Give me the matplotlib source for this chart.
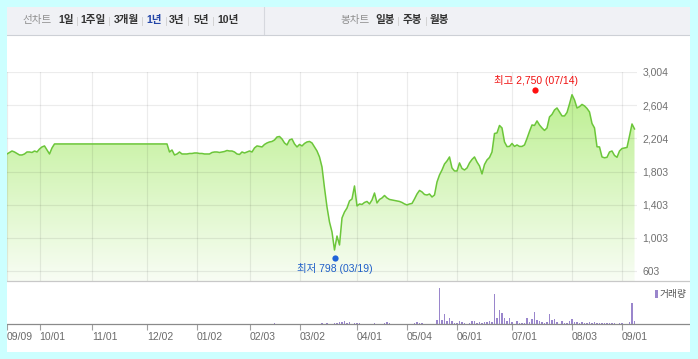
import numpy as np
import matplotlib.pyplot as plt
from matplotlib.patches import Rectangle
from matplotlib.lines import Line2D
from matplotlib.colors import LinearSegmentedColormap
from matplotlib.transforms import offset_copy

plt.rcParams['font.family'] = ['Liberation Sans', 'Noto Sans CJK KR', 'DejaVu Sans']

W, H = 698, 359

# 종가 (거래일 순서)
close = [
    2015, 2033, 2051, 2039, 2021, 2003, 2003, 2015, 2039, 2039, 2033, 2051, 2039, 2075, 2100, 2112, 2063, 2015, 2088,
    2136, 2136, 2136, 2136, 2136, 2136, 2136, 2136, 2136, 2136, 2136, 2136, 2136, 2136, 2136, 2136,
    2136, 2136, 2136, 2136, 2136, 2136, 2136, 2136, 2136, 2136, 2136, 2136, 2136, 2136, 2136, 2136,
    2136, 2136, 2136, 2136, 2136, 2136, 2136, 2136, 2136, 2136, 2136, 2136, 2136, 2136,
    2039, 2063, 2003, 2015, 2039, 2015, 2015, 2015, 2021, 2021, 2027, 2027, 2021, 2021, 2015, 2015, 2015,
    2033, 2039, 2039, 2033, 2039, 2045, 2057, 2051, 2051, 2039, 2015, 2009, 2039, 2027, 2039, 2051, 2039,
    2088, 2112, 2106, 2100, 2130, 2148, 2160, 2166, 2184, 2220, 2226, 2196, 2148, 2124, 2184, 2196, 2136,
    2100, 2130, 2112, 2142, 2160, 2166, 2148, 2100, 2051, 1979,
    1858, 1605, 1375, 1194, 1074, 856, 1025, 917, 1243, 1315, 1363, 1448, 1472, 1629, 1388, 1412, 1406,
    1430, 1442, 1412, 1460, 1544, 1424, 1466, 1484, 1514, 1484, 1466, 1460, 1454, 1448, 1442, 1430, 1412,
    1400, 1412, 1418, 1472, 1532, 1575, 1557, 1526, 1520, 1532, 1496, 1520,
    1677, 1762, 1822, 1894, 1931, 1979, 1846, 1810, 1810, 1907, 1840, 1822, 1846, 1907, 1949, 1979, 1918,
    1870, 1774, 1888, 1943, 1973, 2039, 2262, 2269, 2359, 2329, 2160, 2104, 2106, 2142, 2106, 2124, 2106,
    2106, 2124, 2202, 2287, 2365, 2359, 2414, 2365, 2329, 2299, 2329, 2462, 2492, 2546, 2570, 2522, 2474,
    2474, 2516, 2619, 2730, 2667, 2570, 2586, 2613, 2595, 2564, 2522, 2383, 2329, 2102, 2100, 1979, 1969,
    1975, 2039, 2051, 1997, 1975, 2051, 2081, 2088, 2094, 2232, 2377, 2317,
]

# 거래량 (거래일 번호, 값)
vol_idx = [107, 126, 128, 131, 132, 133, 134, 135, 136, 137, 139, 140, 141, 147, 151, 152, 153,
           163, 164, 165, 166, 172, 173, 174, 175, 176, 177, 178, 179, 180, 181, 182, 183, 185,
           186, 187, 188, 189, 190, 191, 192, 193, 194, 195, 196, 197, 198, 199, 200, 201, 202,
           204, 205, 206, 207, 208, 209, 210, 211, 212, 213, 214, 215, 216, 217, 218, 219, 220,
           222, 223, 224, 225, 226, 227, 228, 229, 230, 231, 232, 233, 234, 235, 236, 237, 238,
           239, 240, 241, 242, 243, 245, 246, 249, 250, 251]
vol_val = [4, 4, 4, 4, 4, 7, 7, 10, 4, 7, 4, 4, 4, 4, 4, 7, 4,
           4, 7, 4, 4, 13, 109, 13, 31, 10, 19, 10, 4, 4, 10, 7, 4, 4,
           10, 10, 4, 7, 4, 7, 7, 10, 7, 91, 19, 43, 34, 19, 10, 19, 7,
           10, 4, 4, 4, 19, 7, 16, 37, 13, 10, 7, 4, 7, 31, 13, 16, 7,
           10, 4, 4, 10, 16, 7, 7, 4, 7, 4, 4, 7, 4, 7, 4, 4, 4,
           4, 4, 4, 4, 4, 4, 4, 7, 64, 10]

tick_idx = [0, 13, 34, 56, 76, 97, 117, 140, 160, 180, 202, 226, 246]
tick_lab = ['09/09', '10/01', '11/01', '12/02', '01/02', '02/03', '03/02',
            '04/01', '05/04', '06/01', '07/01', '08/03', '09/01']
y_ticks = [603, 1003, 1403, 1803, 2204, 2604, 3004]

hi_idx, hi_val, hi_date = 211, 2750, '07/14'
lo_idx, lo_val, lo_date = 131, 798, '03/19'

period_items = ['1일', '1주일', '3개월', '1년', '3년', '5년', '10년']
period_x = [66, 93, 126, 154.5, 177, 201, 228]
period_sep = [77, 109, 142, 166, 188, 213]
candle_items = ['일봉', '주봉', '월봉']
candle_x = [385, 412, 439]
candle_sep = [398, 426]


def fx(px):
    return px / W


def fy(py):
    return 1 - py / H


fig = plt.figure(figsize=(W / 100, H / 100), dpi=100)
fig.patch.set_facecolor('#ccffff')

# 흰 바탕, 상단 메뉴
fig.add_artist(Rectangle((fx(7), fy(352)), fx(690) - fx(7), fy(7) - fy(352),
                         transform=fig.transFigure, fc='white', ec='none', zorder=-10))
fig.add_artist(Rectangle((fx(7), fy(34.5)), fx(690) - fx(7), fy(7) - fy(34.5),
                         transform=fig.transFigure, fc='#f0f1f5', ec='none', zorder=-9))
fig.add_artist(Line2D([fx(7), fx(690)], [fy(34.5), fy(34.5)], transform=fig.transFigure,
                      color='#cdd0d6', lw=0.8, zorder=-8))
fig.add_artist(Line2D([fx(264), fx(264)], [fy(7), fy(34)], transform=fig.transFigure,
                      color='#d6d8de', lw=0.8, zorder=-8))

fig.text(fx(37.5), fy(20.5), '선차트', ha='center', va='center', fontsize=7.6, color='#8f8f8f')
for t, xp in zip(period_items, period_x):
    c = '#2346a8' if t == '1년' else '#333333'
    fig.text(fx(xp), fy(20.5), t, ha='center', va='center', fontsize=7.6, color=c, weight='bold')

fig.text(fx(355), fy(20.5), '봉차트', ha='center', va='center', fontsize=7.6, color='#8f8f8f')
for t, xp in zip(candle_items, candle_x):
    fig.text(fx(xp), fy(20.5), t, ha='center', va='center', fontsize=7.6, color='#333333', weight='bold')

for sx in period_sep + candle_sep:
    fig.add_artist(Line2D([fx(sx), fx(sx)], [fy(16.5), fy(25)], transform=fig.transFigure,
                          color='#d3d3d3', lw=0.7))

# 가격 차트
x = np.arange(len(close))
ybot = 482.3
ax = fig.add_axes([fx(7), fy(281), fx(637) - fx(7), fy(72) - fy(281)])
ax.set_xlim(0, 252)
ax.set_ylim(ybot, 3004)
ax.set_facecolor('none')

poly = ax.fill_between(x, close, ybot, color='none', lw=0)
cmap = LinearSegmentedColormap.from_list('g', ['#f8fdf4', '#b6ee86'])
grad = np.linspace(1, 0, 256).reshape(-1, 1)
im = ax.imshow(grad, aspect='auto', cmap=cmap, extent=(0, 252, ybot, 3004),
               origin='upper', zorder=1)
im.set_clip_path(poly.get_paths()[0], transform=ax.transData)

ax.set_xticks(tick_idx)
ax.set_yticks(y_ticks)
ax.grid(True, color='black', alpha=0.075, lw=0.9, zorder=2)
ax.set_axisbelow(False)
ax.plot(x, close, color='#6cc63a', lw=1.1, zorder=3)
for s in ax.spines.values():
    s.set_visible(False)
ax.yaxis.tick_right()
ax.set_yticklabels([f'{v:,}' for v in y_ticks])
ax.tick_params(axis='y', length=0, pad=4, labelsize=7.5, labelcolor='#707070')
ax.tick_params(axis='x', length=0, labelbottom=False)

# 최고/최저 표시
up = offset_copy(ax.transData, fig=fig, x=0, y=3, units='dots')
dn = offset_copy(ax.transData, fig=fig, x=0, y=-3, units='dots')
ax.plot(hi_idx, hi_val, 'o', color='#ff1010', ms=4.5, mec='none', transform=up, clip_on=False, zorder=5)
ax.plot(lo_idx, lo_val, 'o', color='#1f63d8', ms=4.5, mec='none', transform=dn, clip_on=False, zorder=5)
ax.annotate(f'최고 {hi_val:,} ({hi_date})', (hi_idx, hi_val), xytext=(1, 13), textcoords='offset pixels',
            ha='center', va='center', fontsize=7.5, color='#f01010', zorder=6)
ax.annotate(f'최저 {lo_val:,} ({lo_date})', (lo_idx, lo_val), xytext=(0, -14), textcoords='offset pixels',
            ha='center', va='center', fontsize=7.5, color='#1f5fc8', zorder=6)

# 거래량
vax = fig.add_axes([fx(7), fy(324), fx(637) - fx(7), fy(281) - fy(324)])
vax.set_xlim(0, 252)
vax.set_ylim(0, 129)
vax.set_facecolor('none')
vax.bar(vol_idx, vol_val, width=0.45, color='#9a86cc', lw=0)
for s in vax.spines.values():
    s.set_visible(False)
vax.set_yticks([])
vax.set_xticks(tick_idx)
vax.set_xticklabels(tick_lab)
for lab in vax.get_xticklabels():
    lab.set_horizontalalignment('left')
vax.tick_params(axis='x', length=4, width=0.8, color='#a0a0a0', pad=2, labelsize=7.5, labelcolor='#6a6a6a')

fig.add_artist(Line2D([fx(7), fx(690)], [fy(281), fy(281)], transform=fig.transFigure,
                      color='#c8c8c8', lw=0.9))
fig.add_artist(Line2D([fx(7), fx(690)], [fy(324), fy(324)], transform=fig.transFigure,
                      color='#8a8a8a', lw=0.9))
fig.add_artist(Rectangle((fx(655), fy(298)), fx(2.6), fy(290) - fy(298), transform=fig.transFigure,
                         fc='#9a86cc', ec='none'))
fig.text(fx(660), fy(294), '거래량', ha='left', va='center', fontsize=7, color='#555555')

# 바깥 테두리
for r in [(0, 0, 7, H), (690, 0, W - 690, H), (0, 0, W, 7), (0, 352, W, H - 352)]:
    fig.add_artist(Rectangle((fx(r[0]), fy(r[1] + r[3])), fx(r[2]), r[3] / H,
                             transform=fig.transFigure, fc='#ccffff', ec='none', zorder=100))

fig.savefig('out.png', dpi=100, facecolor=fig.get_facecolor())
